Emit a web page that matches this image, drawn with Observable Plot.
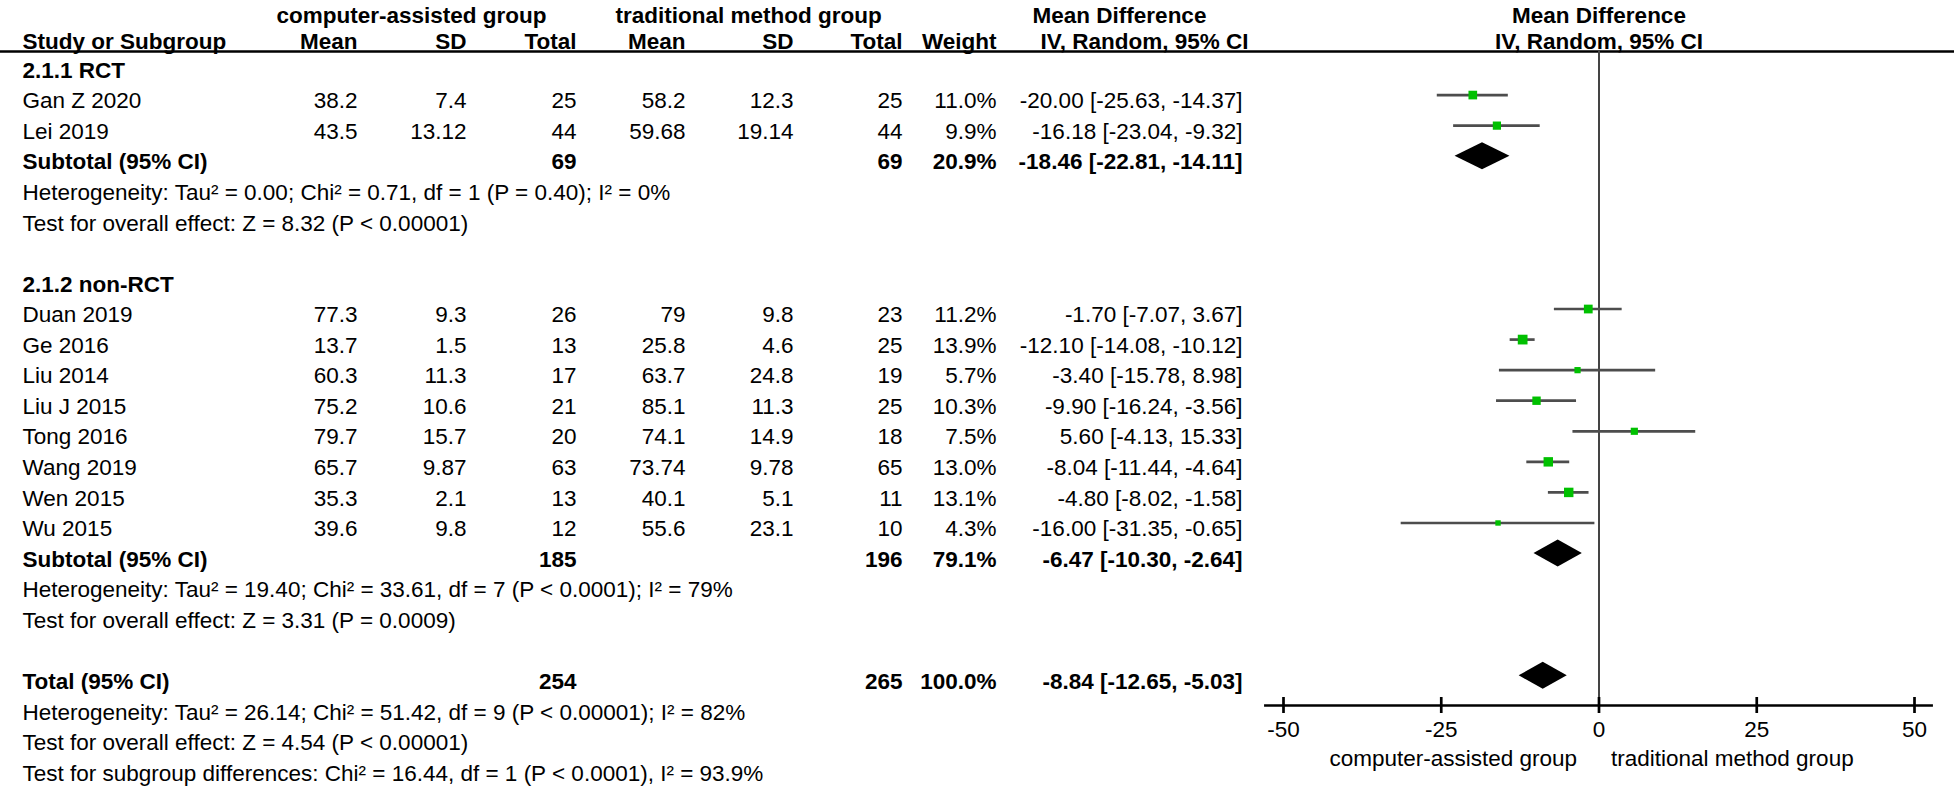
<!DOCTYPE html>
<html><head><meta charset="utf-8">
<script src="https://cdn.jsdelivr.net/npm/d3@7"></script>
<script src="https://cdn.jsdelivr.net/npm/@observablehq/plot@0.6"></script>
<style>
html,body{margin:0;padding:0;background:#fff;}
#chart{position:relative;width:1960px;height:790px;overflow:hidden;}
#chart svg{position:absolute;left:0;top:0;}
</style></head><body><div id="chart"></div>
<script>
// ---------- data ----------
const groupHeadings = ["2.1.1 RCT", "2.1.2 non-RCT"];
const studies = ["Gan Z 2020","Lei 2019","Duan 2019","Ge 2016","Liu 2014","Liu J 2015","Tong 2016","Wang 2019","Wen 2015","Wu 2015"];
const studyGroup = [0,0,1,1,1,1,1,1,1,1];
const caMean = [38.2,43.5,77.3,13.7,60.3,75.2,79.7,65.7,35.3,39.6];
const caSD = [7.4,13.12,9.3,1.5,11.3,10.6,15.7,9.87,2.1,9.8];
const caTotal = [25,44,26,13,17,21,20,63,13,12];
const trMean = [58.2,59.68,79,25.8,63.7,85.1,74.1,73.74,40.1,55.6];
const trSD = [12.3,19.14,9.8,4.6,24.8,11.3,14.9,9.78,5.1,23.1];
const trTotal = [25,44,23,25,19,25,18,65,11,10];
const weight = [11.0,9.9,11.2,13.9,5.7,10.3,7.5,13.0,13.1,4.3];
const md = [-20.00,-16.18,-1.70,-12.10,-3.40,-9.90,5.60,-8.04,-4.80,-16.00];
const ciLo = [-25.63,-23.04,-7.07,-14.08,-15.78,-16.24,-4.13,-11.44,-8.02,-31.35];
const ciHi = [-14.37,-9.32,3.67,-10.12,8.98,-3.56,15.33,-4.64,-1.58,-0.65];

const sumLabels = ["Subtotal (95% CI)","Subtotal (95% CI)","Total (95% CI)"];
const sumCaTotal = [69,185,254];
const sumTrTotal = [69,196,265];
const sumWeight = [20.9,79.1,100.0];
const sumMd = [-18.46,-6.47,-8.84];
const sumLo = [-22.81,-10.30,-12.65];
const sumHi = [-14.11,-2.64,-5.03];
const heterogeneity = [
  "Heterogeneity: Tau² = 0.00; Chi² = 0.71, df = 1 (P = 0.40); I² = 0%",
  "Heterogeneity: Tau² = 19.40; Chi² = 33.61, df = 7 (P < 0.0001); I² = 79%",
  "Heterogeneity: Tau² = 26.14; Chi² = 51.42, df = 9 (P < 0.00001); I² = 82%"
];
const overallEffect = [
  "Test for overall effect: Z = 8.32 (P < 0.00001)",
  "Test for overall effect: Z = 3.31 (P = 0.0009)",
  "Test for overall effect: Z = 4.54 (P < 0.00001)"
];
const subgroupTest = "Test for subgroup differences: Chi² = 16.44, df = 1 (P < 0.0001), I² = 93.9%";

const groupTitles = ["computer-assisted group", "traditional method group"];
const effectTitle = ["Mean Difference", "IV, Random, 95% CI"];
const colHeaders = ["Study or Subgroup","Mean","SD","Total","Mean","SD","Total","Weight"];
const xTicks = [-50,-25,0,25,50];
const favourLabels = ["computer-assisted group", "traditional method group"];

// ---------- layout ----------
const W = 1960, H = 790;
const rowTop = 70, rowBottom = 773, nRows = 24;
const rowStep = (rowBottom - rowTop) / (nRows - 1);
const pxRow = px => (px - rowTop) / rowStep;
const pxLen = px => px / rowStep;
const FONT = "'Liberation Sans', Arial, sans-serif";
const FS = 22.5;
const cx = {name: 22, m1: 357, s1: 466, n1: 576, m2: 685, s2: 793, n2: 902, w: 996, ci: 1242,
            g1: 411, g2: 748, md: 1119, iv: 1144};
const header1Y = pxRow(15), header2Y = pxRow(41), headerLineY = pxRow(51);
const axisRow = pxRow(705);
const markShift = pxLen(-6);

// ---------- build rows ----------
const cells = [];
const studyRows = [];
const sumRows = [];
const fmtCI = (m, l, h) => `${m.toFixed(2)} [${l.toFixed(2)}, ${h.toFixed(2)}]`;
const add = (row, x, text, anchor, bold) => cells.push({row, x, text, anchor, bold});
let r = 0;
groupHeadings.forEach((g, gi) => {
  add(r++, cx.name, g, "start", true);
  studies.forEach((s, i) => {
    if (studyGroup[i] !== gi) return;
    add(r, cx.name, s, "start", false);
    add(r, cx.m1, String(caMean[i]), "end", false);
    add(r, cx.s1, String(caSD[i]), "end", false);
    add(r, cx.n1, String(caTotal[i]), "end", false);
    add(r, cx.m2, String(trMean[i]), "end", false);
    add(r, cx.s2, String(trSD[i]), "end", false);
    add(r, cx.n2, String(trTotal[i]), "end", false);
    add(r, cx.w, weight[i].toFixed(1) + "%", "end", false);
    add(r, cx.ci, fmtCI(md[i], ciLo[i], ciHi[i]), "end", false);
    studyRows.push({row: r + markShift, md: md[i], lo: ciLo[i], hi: ciHi[i], weight: weight[i]});
    r++;
  });
  sumRows.push(r);
  r += 1;
  add(r++, cx.name, heterogeneity[gi], "start", false);
  add(r++, cx.name, overallEffect[gi], "start", false);
  r++; // blank
});
sumRows.push(r);
r++;
add(r++, cx.name, heterogeneity[2], "start", false);
add(r++, cx.name, overallEffect[2], "start", false);
add(r++, cx.name, subgroupTest, "start", false);
sumRows.forEach((row, k) => {
  add(row, cx.name, sumLabels[k], "start", true);
  add(row, cx.n1, String(sumCaTotal[k]), "end", true);
  add(row, cx.n2, String(sumTrTotal[k]), "end", true);
  add(row, cx.w, sumWeight[k].toFixed(1) + "%", "end", true);
  add(row, cx.ci, fmtCI(sumMd[k], sumLo[k], sumHi[k]), "end", true);
});
// headers
add(header1Y, cx.g1, groupTitles[0], "middle", true);
add(header1Y, cx.g2, groupTitles[1], "middle", true);
add(header1Y, cx.md, effectTitle[0], "middle", true);
const hx = [cx.name, cx.m1, cx.s1, cx.n1, cx.m2, cx.s2, cx.n2, cx.w];
colHeaders.forEach((h, i) => add(header2Y, hx[i], h, i === 0 ? "start" : "end", true));
add(header2Y, cx.iv, effectTitle[1], "middle", true);

function textMarks(list) {
  const marks = [];
  for (const anchor of ["start", "middle", "end"]) for (const bold of [false, true]) {
    const sub = list.filter(c => c.anchor === anchor && c.bold === bold);
    if (sub.length) marks.push(Plot.text(sub, {x: "x", y: "row", text: "text", textAnchor: anchor,
      fontWeight: bold ? "bold" : "normal", fontSize: FS, fill: "#000"}));
  }
  return marks;
}

const table = Plot.plot({
  width: W, height: H, margin: 0,
  x: {type: "linear", domain: [0, W], range: [0, W], axis: null},
  y: {type: "linear", domain: [0, nRows - 1], range: [rowTop, rowBottom], axis: null},
  style: {fontFamily: FONT, background: "#fff"},
  marks: [
    Plot.ruleY([headerLineY], {x1: 0, x2: W - 6, stroke: "#000", strokeWidth: 2.5}),
    ...textMarks(cells)
  ]
});

// ---------- forest ----------
const hh = pxLen(13.5);
const diamonds = sumRows.flatMap((row, k) => [
  {id: k, y: row + markShift - hh, x1: sumMd[k], x2: sumMd[k]},
  {id: k, y: row + markShift, x1: sumLo[k], x2: sumHi[k]},
  {id: k, y: row + markShift + hh, x1: sumMd[k], x2: sumMd[k]}
]);
const tickHalf = pxLen(8);
const overhang = 3;

const forest = Plot.plot({
  width: W, height: H, margin: 0,
  x: {domain: [xTicks[0], xTicks[xTicks.length - 1]], range: [1283, 1914], axis: null},
  y: {type: "linear", domain: [0, nRows - 1], range: [rowTop, rowBottom], axis: null},
  r: {type: "sqrt", domain: [0, d3.max(weight)], range: [0, 5.5]},
  style: {fontFamily: FONT, background: "transparent"},
  marks: [
    Plot.ruleX([0], {y1: headerLineY, y2: axisRow, stroke: "#444", strokeWidth: 2}),
    Plot.ruleY(studyRows, {y: "row", x1: "lo", x2: "hi", stroke: "#4d4d4d", strokeWidth: 2.7}),
    Plot.dot(studyRows, {x: "md", y: "row", r: "weight", symbol: "square", fill: "#00c000", stroke: "none"}),
    Plot.areaX(diamonds, {y: "y", x1: "x1", x2: "x2", z: "id", fill: "#000"}),
    Plot.ruleY([axisRow], {x1: xTicks[0] - overhang, x2: xTicks[xTicks.length - 1] + overhang, stroke: "#000", strokeWidth: 2.7}),
    Plot.ruleX(xTicks, {x: d => d, y1: axisRow - tickHalf, y2: axisRow + tickHalf, stroke: "#000", strokeWidth: 2.7}),
    Plot.text(xTicks, {x: d => d, y: axisRow, dy: 24, text: d => String(d), fontSize: FS, fill: "#000"}),
    Plot.text([favourLabels[0]], {x: 0, y: axisRow, dy: 53, dx: -22, text: d => d, textAnchor: "end", fontSize: FS, fill: "#000"}),
    Plot.text([favourLabels[1]], {x: 0, y: axisRow, dy: 53, dx: 12, text: d => d, textAnchor: "start", fontSize: FS, fill: "#000"}),
    Plot.text([effectTitle[0]], {x: 0, y: header1Y, text: d => d, fontWeight: "bold", fontSize: FS, fill: "#000"}),
    Plot.text([effectTitle[1]], {x: 0, y: header2Y, text: d => d, fontWeight: "bold", fontSize: FS, fill: "#000"})
  ]
});

document.getElementById("chart").append(table, forest);
</script>
</body></html>
